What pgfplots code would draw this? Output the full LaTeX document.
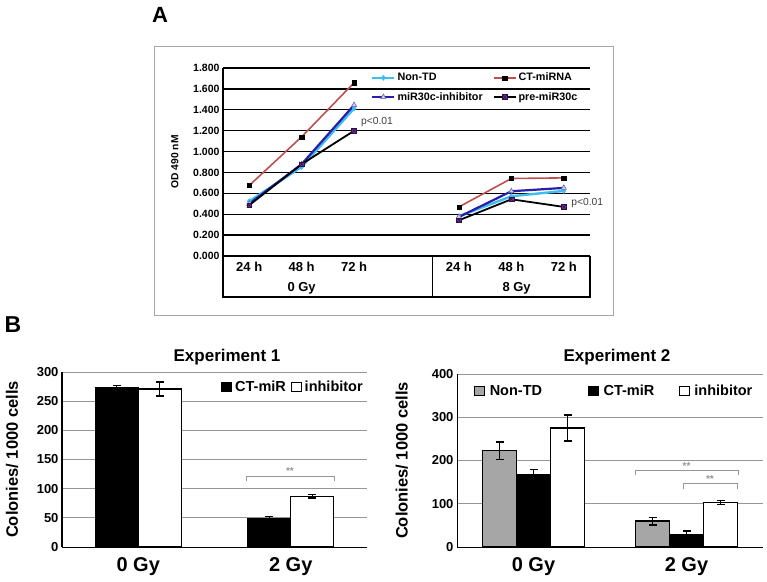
\documentclass[border=0pt]{standalone}
\usepackage{pgfplots}
\pgfplotsset{compat=1.18}
\usepackage{fontspec}
\setmainfont{Liberation Sans}
\definecolor{cyanA}{RGB}{60,190,240}
\definecolor{ctred}{RGB}{192,80,77}
\definecolor{inhblue}{RGB}{40,30,170}
\definecolor{prepurple}{RGB}{112,48,160}
\definecolor{barGray}{RGB}{166,166,166}
\definecolor{gridGray}{RGB}{150,150,150}
\newcommand{\fs}[1]{\fontsize{#1}{#1}\selectfont}
\pgfdeclareplotmark{sqx}{%
  \pgfpathrectangle{\pgfpoint{-\pgfplotmarksize}{-\pgfplotmarksize}}{\pgfpoint{2\pgfplotmarksize}{2\pgfplotmarksize}}%
  \pgfusepathqfillstroke
  \pgfpathmoveto{\pgfpoint{-\pgfplotmarksize}{-\pgfplotmarksize}}%
  \pgfpathlineto{\pgfpoint{\pgfplotmarksize}{\pgfplotmarksize}}%
  \pgfpathmoveto{\pgfpoint{-\pgfplotmarksize}{\pgfplotmarksize}}%
  \pgfpathlineto{\pgfpoint{\pgfplotmarksize}{-\pgfplotmarksize}}%
  \pgfusepathqstroke
}
\pgfplotsset{
  sqlegend/.style={legend image code/.code={\draw[##1, line width=0.8pt] (0pt,-4.5pt) rectangle (10pt,5pt);}},
  longline/.style={legend image code/.code={\draw[mark repeat=2,mark phase=2,##1] plot coordinates {(0pt,0pt) (11pt,0pt) (22pt,0pt)};}},
}
\begin{document}
\begin{tikzpicture}[x=1pt,y=1pt]
\useasboundingbox (0,0) rectangle (767,581);
\fill[white] (0,0) rectangle (767,581);
\draw[gray!70, line width=0.8pt] (154,266) rectangle (613,535);
\node[font=\fs{22}\bfseries] at (160,566) {A};
\node[font=\fs{23}\bfseries] at (13,256) {B};

% ---------------- Panel A ----------------
\begin{axis}[
  at={(223pt,325pt)}, anchor=south west, scale only axis,
  width=367pt, height=188pt,
  xmin=-0.5, xmax=6.5, ymin=0, ymax=1.8,
  axis line style={draw=none},
  ytick={0,0.2,0.4,0.6,0.8,1.0,1.2,1.4,1.6,1.8},
  yticklabels={0.000,0.200,0.400,0.600,0.800,1.000,1.200,1.400,1.600,1.800},
  yticklabel style={font=\fs{10.5}\bfseries},
  ymajorgrids, grid style={black, line width=1.3pt},
  major tick length=0pt,
  xtick={0,1,2,4,5,6}, xticklabels={24 h,48 h,72 h,24 h,48 h,72 h},
  xticklabel style={font=\fs{13}\bfseries, yshift=-3pt},
  ylabel={OD 490 nM},
  ylabel style={font=\fs{10.3}\bfseries, at={(axis description cs:-0.131,0.5)}, anchor=center},
  clip=false, unbounded coords=jump,
  legend columns=2,
  legend cell align=left,
  legend style={at={(axis description cs:0.395,0.995)}, anchor=north west, draw=none, fill=none,
    font=\fs{10.8}\bfseries, row sep=6pt,
    /tikz/every odd column/.append style={column sep=0pt},
    /tikz/every even column/.append style={column sep=8pt}},
]
\addplot[longline, cyanA, line width=2.4pt, mark=diamond*, mark size=2.6pt, mark options={fill=cyanA, draw=cyanA, line width=0.5pt}]
  coordinates {(0,0.524)(1,0.853)(2,1.413)(3,nan)(4,0.38)(5,0.572)(6,0.623)};
\addlegendentry{Non-TD}
\addplot[longline, ctred, line width=1.6pt, mark=square*, mark size=2.1pt, mark options={fill=black, draw=black, line width=0.4pt}]
  coordinates {(0,0.675)(1,1.141)(2,1.659)(3,nan)(4,0.47)(5,0.742)(6,0.748)};
\addlegendentry{CT-miRNA}
\addplot[longline, inhblue, line width=2.2pt, mark=triangle*, mark size=3pt, mark options={fill=gray!35, draw=inhblue!70, line width=0.6pt}]
  coordinates {(0,0.50)(1,0.879)(2,1.445)(3,nan)(4,0.374)(5,0.62)(6,0.652)};
\addlegendentry{miR30c-inhibitor}
\addplot[longline, black, line width=1.8pt, mark=sqx, mark size=2.4pt, mark options={fill=prepurple, draw=black!60!prepurple, line width=0.5pt}]
  coordinates {(0,0.486)(1,0.879)(2,1.199)(3,nan)(4,0.342)(5,0.543)(6,0.47)};
\addlegendentry{pre-miR30c}
\draw[black, line width=1.3pt] (axis cs:-0.5,1.8) -- (axis cs:-0.5,-0.393) -- (axis cs:6.5,-0.393) -- (axis cs:6.5,0);
\draw[black, line width=1.3pt] (axis cs:3.5,0) -- (axis cs:3.5,-0.393);
\node[font=\fs{13}\bfseries] at (axis cs:1,-0.31) {0 Gy};
\node[font=\fs{13}\bfseries] at (axis cs:5.1,-0.31) {8 Gy};
\node[font=\fs{10.3}, text=black!75, anchor=west, inner sep=0pt] at (axis cs:2.13,1.283) {p<0.01};
\node[font=\fs{10.3}, text=black!75, anchor=west, inner sep=0pt] at (axis cs:6.14,0.508) {p<0.01};
\end{axis}

% ---------------- Experiment 1 ----------------
\begin{axis}[
  at={(62pt,34pt)}, anchor=south west, scale only axis,
  width=305pt, height=175pt,
  xmin=-0.5, xmax=1.5, ymin=0, ymax=300,
  ytick={0,50,100,150,200,250,300},
  xtick={0,1}, xticklabels={0 Gy,2 Gy},
  /pgf/number format/assume math mode=true,
  yticklabel style={font=\fs{13}\bfseries},
  xticklabel style={font=\fs{20}\bfseries, yshift=-7pt},
  axis x line*=bottom, axis y line*=left,
  axis line style={-, black, line width=1pt},
  ymajorgrids, grid style={gridGray, line width=0.8pt},
  major tick length=0pt,
  ybar=0pt, bar width=43pt,
  ylabel={Colonies/ 1000 cells},
  ylabel style={font=\fs{16.5}\bfseries, at={(axis description cs:-0.164,0.5)}, anchor=center},
  clip=false,
  legend columns=2, legend cell align=left,
  legend style={at={(axis description cs:1.003,0.914)}, anchor=east, draw=none, fill=none,
    font=\fs{14.5}\bfseries, /tikz/every even column/.append style={column sep=3pt},
    /tikz/every odd column/.append style={column sep=1pt}},
]
\addplot[sqlegend, fill=black, draw=black, line width=1.2pt,
  error bars/.cd, y dir=both, y explicit,
  error bar style={line width=1.2pt, black},
  error mark options={rotate=90, mark size=4pt, line width=1.2pt, black}]
  coordinates {(0,274) +- (0,3) (1,49) +- (0,3)};
\addlegendentry{CT-miR}
\addplot[sqlegend, fill=white, draw=black, line width=1.2pt,
  error bars/.cd, y dir=both, y explicit,
  error bar style={line width=1.2pt, black},
  error mark options={rotate=90, mark size=4pt, line width=1.2pt, black}]
  coordinates {(0,271) +- (0,12) (1,87) +- (0,3)};
\addlegendentry{inhibitor}
\draw[gridGray, line width=0.8pt] (axis cs:0.707,113) -- (axis cs:0.707,121) -- (axis cs:1.284,121) -- (axis cs:1.284,113);
\node[font=\fs{10}\bfseries, text=gridGray] at (axis cs:0.995,131) {**};
\end{axis}
\node[font=\fs{17}\bfseries] at (227,224) {Experiment 1};

% ---------------- Experiment 2 ----------------
\begin{axis}[
  at={(457pt,34pt)}, anchor=south west, scale only axis,
  width=306pt, height=173pt,
  xmin=-0.5, xmax=1.5, ymin=0, ymax=400,
  ytick={0,100,200,300,400},
  xtick={0,1}, xticklabels={0 Gy,2 Gy},
  /pgf/number format/assume math mode=true,
  yticklabel style={font=\fs{13}\bfseries},
  xticklabel style={font=\fs{20}\bfseries, yshift=-7pt},
  axis x line*=bottom, axis y line*=left,
  axis line style={-, black, line width=1pt},
  ymajorgrids, grid style={gridGray, line width=0.8pt},
  major tick length=0pt,
  ybar=0pt, bar width=34pt,
  ylabel={Colonies/ 1000 cells},
  ylabel style={font=\fs{16.5}\bfseries, at={(axis description cs:-0.180,0.5)}, anchor=center},
  clip=false,
  legend columns=3, legend cell align=left,
  legend style={at={(axis description cs:0.045,0.9)}, anchor=west, draw=none, fill=none,
    font=\fs{14.5}\bfseries, /tikz/every odd column/.append style={column sep=3pt}},
]
\addplot[sqlegend, fill=barGray, draw=black, line width=1.2pt,
  error bars/.cd, y dir=both, y explicit,
  error bar style={line width=1.2pt, black},
  error mark options={rotate=90, mark size=4pt, line width=1.2pt, black}]
  coordinates {(0,223) +- (0,20) (1,60) +- (0,9)};
\addlegendentry{\makebox[96pt][l]{Non-TD}}
\addplot[sqlegend, fill=black, draw=black, line width=1.2pt,
  error bars/.cd, y dir=both, y explicit,
  error bar style={line width=1.2pt, black},
  error mark options={rotate=90, mark size=4pt, line width=1.2pt, black}]
  coordinates {(0,167) +- (0,13) (1,29) +- (0,8)};
\addlegendentry{\makebox[73pt][l]{CT-miR}}
\addplot[sqlegend, fill=white, draw=black, line width=1.2pt,
  error bars/.cd, y dir=both, y explicit,
  error bar style={line width=1.2pt, black},
  error mark options={rotate=90, mark size=4pt, line width=1.2pt, black}]
  coordinates {(0,275) +- (0,30) (1,103) +- (0,5)};
\addlegendentry{inhibitor}
\draw[gridGray, line width=0.8pt] (axis cs:0.663,167) -- (axis cs:0.663,178) -- (axis cs:1.337,178) -- (axis cs:1.337,167);
\node[font=\fs{10}\bfseries, text=gridGray] at (axis cs:1.0,188) {**};
\draw[gridGray, line width=0.8pt] (axis cs:0.977,133) -- (axis cs:0.977,147) -- (axis cs:1.33,147) -- (axis cs:1.33,133);
\node[font=\fs{10}\bfseries, text=gridGray] at (axis cs:1.153,157) {**};
\end{axis}
\node[font=\fs{17}\bfseries] at (617,224) {Experiment 2};
\end{tikzpicture}
\end{document}
